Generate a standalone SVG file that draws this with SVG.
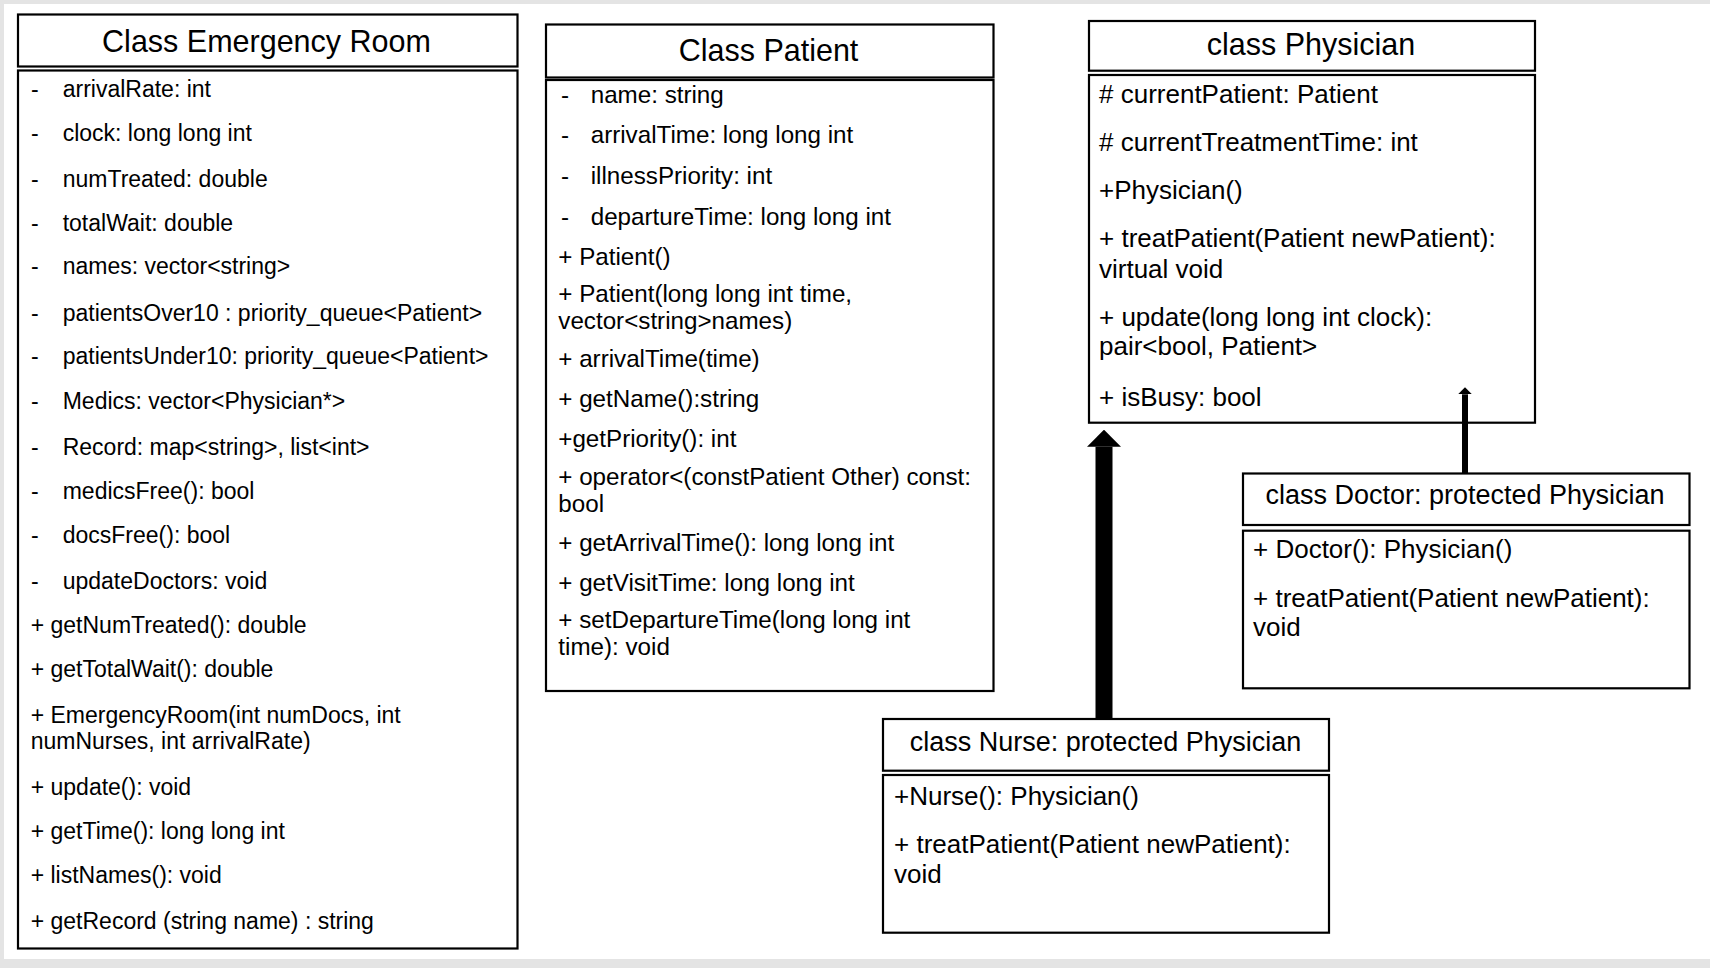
<svg xmlns="http://www.w3.org/2000/svg" width="1710" height="968" viewBox="0 0 1710 968">
<defs>
<style>
.box{fill:#fff;stroke:#000;stroke-width:2.2}
text{font-family:"Liberation Sans",Arial,sans-serif;fill:#000}
.t{font-size:30.5px;text-anchor:middle}
.ts{font-size:27px;text-anchor:middle}
.er{font-size:23px}
.pa{font-size:24.2px}
.ph{font-size:26px}
.conn{stroke:#000;fill:none}
</style>
<marker id="headThick" viewBox="0 0 17 34" refX="0" refY="17" markerWidth="17" markerHeight="34" markerUnits="userSpaceOnUse" orient="auto"><path d="M0,0 L17,17 L0,34 z" fill="#000"/></marker>
<marker id="headThin" viewBox="0 0 7 14" refX="0" refY="7" markerWidth="7" markerHeight="14" markerUnits="userSpaceOnUse" orient="auto"><path d="M0,0 L7,7 L0,14 z" fill="#000"/></marker>
</defs>
<rect x="0" y="0" width="1710" height="968" fill="#e4e4e4"/>
<rect x="4" y="4" width="1706" height="955" fill="#fff"/>

<g id="emergency-room">
<rect class="box" x="18" y="14.5" width="499.5" height="52"/>
<text class="t" x="266.5" y="52">Class Emergency Room</text>
<rect class="box" x="18" y="70.5" width="499.5" height="878"/>
<g class="er">
<text x="31" y="96.7">-</text><text x="62.7" y="96.7">arrivalRate: int</text>
<text x="31" y="141">-</text><text x="62.7" y="141">clock: long long int</text>
<text x="31" y="186.7">-</text><text x="62.7" y="186.7">numTreated: double</text>
<text x="31" y="230.7">-</text><text x="62.7" y="230.7">totalWait: double</text>
<text x="31" y="274.3">-</text><text x="62.7" y="274.3">names: vector&lt;string&gt;</text>
<text x="31" y="320.7">-</text><text x="62.7" y="320.7">patientsOver10 : priority_queue&lt;Patient&gt;</text>
<text x="31" y="364.3">-</text><text x="62.7" y="364.3">patientsUnder10: priority_queue&lt;Patient&gt;</text>
<text x="31" y="409.2">-</text><text x="62.7" y="409.2">Medics: vector&lt;Physician*&gt;</text>
<text x="31" y="455">-</text><text x="62.7" y="455">Record: map&lt;string&gt;, list&lt;int&gt;</text>
<text x="31" y="499.2">-</text><text x="62.7" y="499.2">medicsFree(): bool</text>
<text x="31" y="543.1">-</text><text x="62.7" y="543.1">docsFree(): bool</text>
<text x="31" y="588.9">-</text><text x="62.7" y="588.9">updateDoctors: void</text>
<text x="30.7" y="633.1">+ getNumTreated(): double</text>
<text x="30.7" y="677">+ getTotalWait(): double</text>
<text x="30.7" y="723.1">+ EmergencyRoom(int numDocs, int<tspan x="30.7" dy="26.2">numNurses, int arrivalRate)</tspan></text>
<text x="30.7" y="795.1">+ update(): void</text>
<text x="30.7" y="839.3">+ getTime(): long long int</text>
<text x="30.7" y="882.5">+ listNames(): void</text>
<text x="30.7" y="929.3">+ getRecord (string name) : string</text>
</g>
</g>

<g id="patient">
<rect class="box" x="546" y="24.5" width="447.5" height="53"/>
<text class="t" x="768.5" y="61">Class Patient</text>
<rect class="box" x="546" y="80" width="447.5" height="611"/>
<g class="pa">
<text x="561" y="103.3">-</text><text x="590.7" y="103.3">name: string</text>
<text x="561" y="142.7">-</text><text x="590.7" y="142.7">arrivalTime: long long int</text>
<text x="561" y="184.3">-</text><text x="590.7" y="184.3">illnessPriority: int</text>
<text x="561" y="225">-</text><text x="590.7" y="225">departureTime: long long int</text>
<text x="558.3" y="265">+ Patient()</text>
<text x="558.3" y="301.5">+ Patient(long long int time,<tspan x="558.3" dy="27.2">vector&lt;string&gt;names)</tspan></text>
<text x="558.3" y="367">+ arrivalTime(time)</text>
<text x="558.3" y="406.7">+ getName():string</text>
<text x="558.3" y="446.7">+getPriority(): int</text>
<text x="558.3" y="484.5">+ operator&lt;(constPatient Other) const:<tspan x="558.3" dy="27.2">bool</tspan></text>
<text x="558.3" y="551">+ getArrivalTime(): long long int</text>
<text x="558.3" y="590.7">+ getVisitTime: long long int</text>
<text x="558.3" y="627.5">+ setDepartureTime(long long int<tspan x="558.3" dy="27.2">time): void</tspan></text>
</g>
</g>

<g id="physician">
<rect class="box" x="1089" y="21" width="446" height="49.7"/>
<text class="t" x="1311" y="55">class Physician</text>
<rect class="box" x="1089" y="75" width="446" height="347.7"/>
<g class="ph">
<text x="1099" y="103.3"># currentPatient: Patient</text>
<text x="1099" y="150.7"># currentTreatmentTime: int</text>
<text x="1099" y="199.3">+Physician()</text>
<text x="1099" y="247.3">+ treatPatient(Patient newPatient):<tspan x="1099" dy="31">virtual void</tspan></text>
<text x="1099" y="325.5">+ update(long long int clock):<tspan x="1099" dy="29.2">pair&lt;bool, Patient&gt;</tspan></text>
<text x="1099" y="406">+ isBusy: bool</text>
</g>
</g>

<g id="doctor">
<rect class="box" x="1243" y="473.5" width="446.5" height="51.5"/>
<text class="ts" x="1465" y="504">class Doctor: protected Physician</text>
<rect class="box" x="1243" y="530.7" width="446.5" height="157.6"/>
<g class="ph">
<text x="1253" y="558.3">+ Doctor(): Physician()</text>
<text x="1253" y="606.7">+ treatPatient(Patient newPatient):<tspan x="1253" dy="29.3">void</tspan></text>
</g>
</g>

<g id="nurse">
<rect class="box" x="883" y="719" width="446" height="51.7"/>
<text class="ts" x="1105.5" y="751">class Nurse: protected Physician</text>
<rect class="box" x="883" y="775" width="446" height="157.7"/>
<g class="ph">
<text x="894" y="805">+Nurse(): Physician()</text>
<text x="894" y="853.3">+ treatPatient(Patient newPatient):<tspan x="894" dy="29.4">void</tspan></text>
</g>
</g>

<g id="connectors">
<line class="conn" x1="1104" y1="719" x2="1104" y2="446.7" stroke-width="17" marker-end="url(#headThick)"/>
<line class="conn" x1="1465" y1="473.5" x2="1465" y2="394.3" stroke-width="6" marker-end="url(#headThin)"/>
</g>
</svg>
